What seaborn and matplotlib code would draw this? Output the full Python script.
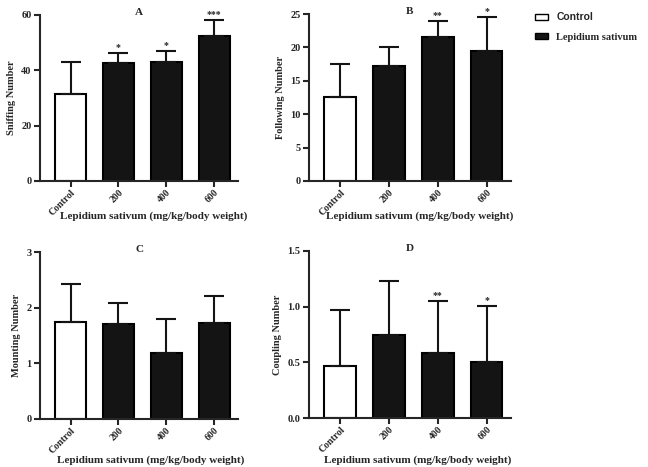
import matplotlib
matplotlib.use('Agg')
import matplotlib.pyplot as plt
from matplotlib.patches import Patch
import pandas as pd
import seaborn as sns

doses = ['Control', '200', '400', '600']
groups = ['Control', 'Lepidium sativum', 'Lepidium sativum', 'Lepidium sativum']

sniffing_mean = [31.3, 42.5, 42.9, 52.5]
sniffing_sd = [11.8, 3.9, 4.2, 5.7]
sniffing_sig = ['', '*', '*', '***']

following_mean = [12.6, 17.2, 21.6, 19.5]
following_sd = [4.9, 2.9, 2.4, 5.1]
following_sig = ['', '', '**', '*']

mounting_mean = [1.75, 1.70, 1.19, 1.72]
mounting_sd = [0.68, 0.38, 0.60, 0.49]
mounting_sig = ['', '', '', '']

coupling_mean = [0.47, 0.75, 0.585, 0.50]
coupling_sd = [0.50, 0.48, 0.47, 0.51]
coupling_sig = ['', '', '**', '*']

sns.set_style('ticks')
plt.rcParams['font.family'] = ['Liberation Serif', 'DejaVu Serif']
plt.rcParams['font.weight'] = 'bold'
plt.rcParams['axes.labelweight'] = 'bold'

fig = plt.figure(figsize=(6.48, 4.67), dpi=100)
W, H = 648, 467

def px_axes(left, right, bottom, top):
    return fig.add_axes([left / W, 1 - bottom / H, (right - left) / W, (bottom - top) / H])

# letter, ylabel, data, ymax, step, tick format, axes box (px), xlabel position
panels = [
    ('A', 'Sniffing Number', sniffing_mean, sniffing_sd, sniffing_sig, 60, 20, '{:.0f}', (40, 238, 181, 15), (0.575, 35)),
    ('B', 'Following Number', following_mean, following_sd, following_sig, 25, 5, '{:.0f}', (309, 511, 181, 14), (0.55, 35)),
    ('C', 'Mounting Number', mounting_mean, mounting_sd, mounting_sig, 3, 1, '{:.0f}', (40, 238, 419, 252), (0.56, 41)),
    ('D', 'Coupling Number', coupling_mean, coupling_sd, coupling_sig, 1.5, 0.5, '{:.1f}', (309, 511, 418, 251), (0.54, 42)),
]

palette = {'Control': 'white', 'Lepidium sativum': '#141414'}

for letter, ylabel, mean, sd, sig, ymax, step, fmt, box, xl in panels:
    ax = px_axes(*box)
    df = pd.DataFrame({'dose': doses, 'value': mean, 'group': groups})
    sns.barplot(data=df, x='dose', y='value', hue='group', palette=palette,
                dodge=False, width=0.65, edgecolor='black', linewidth=1.5,
                legend=False, ax=ax)
    xs = range(len(doses))
    ax.errorbar(xs, mean, yerr=[[0] * len(sd), sd], fmt='none', ecolor='#141414',
                elinewidth=1.5, capsize=7, capthick=1.5, zorder=1)
    for x, m, s, st in zip(xs, mean, sd, sig):
        if st:
            ax.text(x, m + s + ymax * 0.005, st, ha='center', va='bottom', fontsize=7)
    ax.set_xlim(-0.64, 3.5)
    ax.set_ylim(0, ymax)
    ticks = [i * step for i in range(int(round(ymax / step)) + 1)]
    ax.set_yticks(ticks)
    ax.set_yticklabels([fmt.format(t) for t in ticks], fontsize=7.5)
    ax.set_xticks(list(xs))
    ax.set_xticklabels(doses, rotation=45, ha='right', rotation_mode='anchor', fontsize=7)
    ax.set_ylabel(ylabel, fontsize=7.5)
    ax.set_xlabel('Lepidium sativum (mg/kg/body weight)', fontsize=8)
    ax.xaxis.set_label_coords(xl[0], -xl[1] / (box[2] - box[3]))
    ax.xaxis.label.set_va('center')
    ax.text(0.5, 1.015, letter, transform=ax.transAxes, ha='center', va='center', fontsize=8)
    for sp in ['left', 'bottom']:
        ax.spines[sp].set_linewidth(1.5)
    sns.despine(ax=ax)
    ax.tick_params(width=1.5, length=4, pad=2)
    ax.tick_params(axis='x', pad=1)

handles = [Patch(facecolor='white', edgecolor='black', linewidth=1),
           Patch(facecolor='#141414', edgecolor='black', linewidth=1)]
leg = fig.legend(handles, ['Control', 'Lepidium sativum'], loc='upper left',
                 bbox_to_anchor=(526 / W, 1 - 3 / H), frameon=False, fontsize=7.5,
                 handlelength=1.2, handleheight=0.5, labelspacing=1.0, handletextpad=0.8)
leg.get_texts()[0].set_fontfamily('Liberation Sans')

fig.savefig('out.png', dpi=100)
